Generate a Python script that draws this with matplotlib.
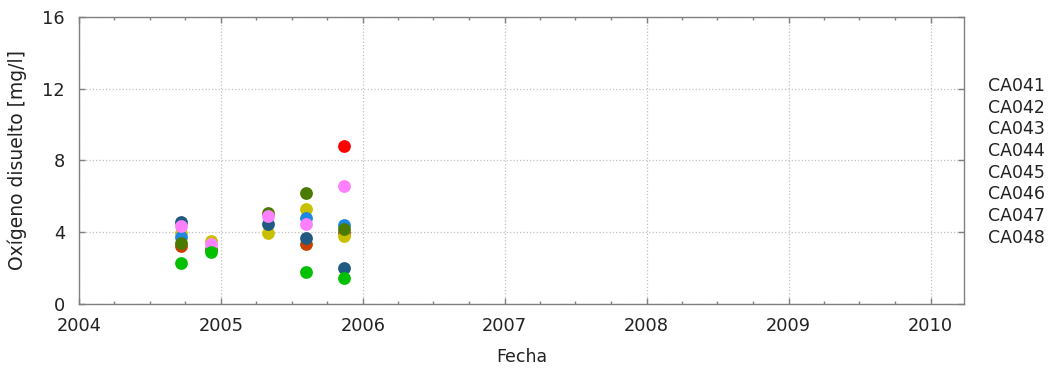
import datetime as dt
import matplotlib
matplotlib.use("Agg")
import matplotlib.pyplot as plt
import matplotlib.dates as mdates
from matplotlib.lines import Line2D

plt.rcParams['font.family'] = ['DejaVu Sans']

d1 = dt.date(2004, 9, 20)
d2 = dt.date(2004, 12, 6)
d3 = dt.date(2005, 5, 1)
d4 = dt.date(2005, 8, 8)
d5 = dt.date(2005, 11, 14)

stations = ["CA041", "CA042", "CA043", "CA044", "CA045", "CA046", "CA047", "CA048"]
colors = ["#ff0000", "#00c000", "#1e88e5", "#ff80ff", "#c8c000", "#4a7a00", "#205a80", "#c84000"]

dates_ca041 = [d5]
vals_ca041 = [8.81]
dates_ca042 = [d1, d2, d4, d5]
vals_ca042 = [2.30, 2.92, 1.80, 1.43]
dates_ca043 = [d1, d4, d5]
vals_ca043 = [3.75, 4.81, 4.40]
dates_ca044 = [d1, d2, d3, d4, d5]
vals_ca044 = [4.35, 3.34, 4.90, 4.46, 6.58]
dates_ca045 = [d1, d2, d3, d4, d5]
vals_ca045 = [3.94, 3.53, 3.98, 5.28, 3.79]
dates_ca046 = [d1, d2, d3, d4, d5]
vals_ca046 = [3.40, 3.05, 5.09, 6.17, 4.16]
dates_ca047 = [d1, d3, d4, d5]
vals_ca047 = [4.59, 4.46, 3.66, 1.99]
dates_ca048 = [d1, d4, d5]
vals_ca048 = [3.23, 3.34, 3.94]

series = [
    (dates_ca041, vals_ca041),
    (dates_ca042, vals_ca042),
    (dates_ca043, vals_ca043),
    (dates_ca044, vals_ca044),
    (dates_ca045, vals_ca045),
    (dates_ca046, vals_ca046),
    (dates_ca047, vals_ca047),
    (dates_ca048, vals_ca048),
]
# drawing order (z-order) to mimic overlaps
draw_order = [0, 7, 4, 2, 5, 6, 3, 1]

fig = plt.figure(figsize=(10.52, 3.71), dpi=100)
ax = fig.add_axes([0.0751, 0.1806, 0.9163 - 0.0751, 0.9542 - 0.1806])

for z, i in enumerate(draw_order):
    ds, vs = series[i]
    ax.plot(ds, vs, linestyle="none", marker="o", markersize=9.2,
            color=colors[i], markeredgewidth=0, zorder=3 + z)

ax.set_xlim(dt.date(2004, 1, 1), dt.date(2010, 3, 28))
ax.set_ylim(0, 16)
ax.set_yticks([0, 4, 8, 12, 16])
ax.xaxis.set_major_locator(mdates.YearLocator())
ax.xaxis.set_major_formatter(mdates.DateFormatter("%Y"))
ax.xaxis.set_minor_locator(mdates.MonthLocator([4, 7, 10]))

frame_c = "#808080"
for s in ax.spines.values():
    s.set_color(frame_c)
    s.set_linewidth(1.0)

txt_c = "#222222"
ax.tick_params(which="both", direction="in", top=True, right=True, colors=frame_c,
               labelcolor=txt_c, labelsize=12.8)
ax.tick_params(which="major", length=4, width=1)
ax.tick_params(which="minor", length=2.5, width=1)
ax.tick_params(axis="x", which="major", pad=9.4)
ax.tick_params(axis="y", which="major", pad=10)
ax.grid(True, which="major", linestyle=":", color="#c0c0c0", linewidth=0.9)

ax.set_xlabel("Fecha", fontsize=12.5, color=txt_c, labelpad=9)
ax.set_ylabel("Oxígeno disuelto [mg/l]", fontsize=13.5, color=txt_c, labelpad=11)

handles = [Line2D([], [], linestyle="none", marker=None) for _ in stations]
leg = ax.legend(handles, stations, loc="upper left", bbox_to_anchor=(1.019, 0.815),
                frameon=False, handlelength=0, handletextpad=0, labelspacing=0.21,
                fontsize=12.5, borderaxespad=0)
for t in leg.get_texts():
    t.set_color(txt_c)

fig.savefig("out.png", dpi=100)
